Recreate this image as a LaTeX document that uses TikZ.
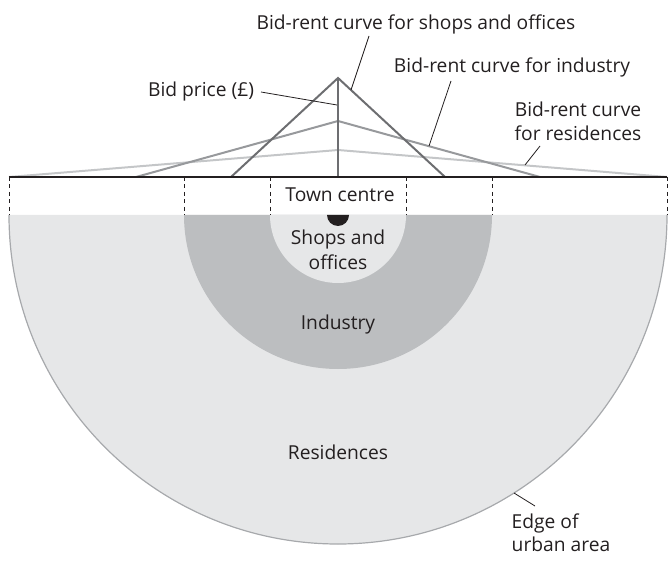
\documentclass[tikz,border=0pt]{standalone}
\usepackage{fontspec}
\setmainfont{Open Sans}
\definecolor{resfill}{HTML}{E6E7E8}
\definecolor{indfill}{HTML}{BCBEC0}
\definecolor{edgec}{HTML}{A7A9AC}
\definecolor{shopc}{HTML}{6D6E71}
\definecolor{indc}{HTML}{97999C}
\definecolor{resc}{HTML}{C4C6C8}
\definecolor{txtc}{HTML}{231F20}
\begin{document}
\begin{tikzpicture}[x=1bp,y=1bp,
  font=\fontsize{19.3}{24}\selectfont,
  lbl/.style={inner sep=0pt, text=txtc, anchor=base},
  lblw/.style={inner sep=0pt, text=txtc, anchor=base west},
  leader/.style={draw=txtc, line width=0.8bp},
  curve/.style={line width=2bp, line join=miter},
  dashline/.style={draw=txtc, line width=0.9bp, dash pattern=on 4bp off 3.5bp}]
\useasboundingbox (0,0) rectangle (671,-562);
% half-disc zones
\fill[resfill] (9,-215) arc[start angle=180, end angle=360, radius=329] -- cycle;
\draw[edgec, line width=1.2bp] (9,-215) arc[start angle=180, end angle=360, radius=329];
\fill[indfill] (184,-215) arc[start angle=180, end angle=360, radius=154] -- cycle;
\fill[resfill] (270,-215) arc[start angle=180, end angle=360, radius=68] -- cycle;
\fill[txtc] (327,-215) arc[start angle=180, end angle=360, radius=11] -- cycle;
% dashed boundary lines
\foreach \xx in {9,184,270,406,492,667} \draw[dashline] (\xx,-177) -- (\xx,-215);
% bid-rent curves
\draw[curve, resc] (9,-177) -- (338,-150) -- (667,-177);
\draw[curve, indc] (136,-177) -- (338,-121) -- (540,-177);
\draw[curve, shopc] (231,-177) -- (338,-78) -- (445,-177);
\draw[curve, shopc] (338,-177) -- (338,-78);
\draw[line width=2bp, txtc] (9,-177) -- (667,-177);
% labels
\node[lbl] (lshop) at (416,-29.3) {Bid-rent curve for shops and offices};
\node[lbl] (lprice) at (201,-96.7) {Bid price (£)};
\node[lbl] (lind) at (512,-72.7) {Bid-rent curve for industry};
\node[lbl] (lresA) at (578,-116.7) {Bid-rent curve};
\node[lbl] (lresB) at (578,-140.5) {for residences};
\node[lblw] (ledgeA) at (511.5,-528) {Edge of};
\node[lblw] (ledgeB) at (511.5,-551.7) {urban area};
\node[lbl] (ltown) at (340,-201.7) {Town centre};
\node[lbl] (lsoA) at (338,-245) {Shops and};
\node[lbl] (lsoB) at (338,-269) {offices};
\node[lbl] (lin) at (338,-329) {Industry};
\node[lbl] (lre) at (338,-459) {Residences};
% leader ends
\coordinate (sA) at (369,-36);
\coordinate (sB) at (351,-90);
\coordinate (pA) at (261,-92);
\coordinate (pB) at (337,-105);
\coordinate (iA) at (451,-81);
\coordinate (iB) at (429,-146);
\coordinate (rA) at (540,-146);
\coordinate (rB) at (525,-165);
\coordinate (eA) at (535,-506);
\coordinate (eB) at (514,-493);
\draw[leader] (sA) -- (sB);
\draw[leader] (pA) -- (pB);
\draw[leader] (iA) -- (iB);
\draw[leader] (rA) -- (rB);
\draw[leader] (eA) -- (eB);
\end{tikzpicture}
\end{document}
